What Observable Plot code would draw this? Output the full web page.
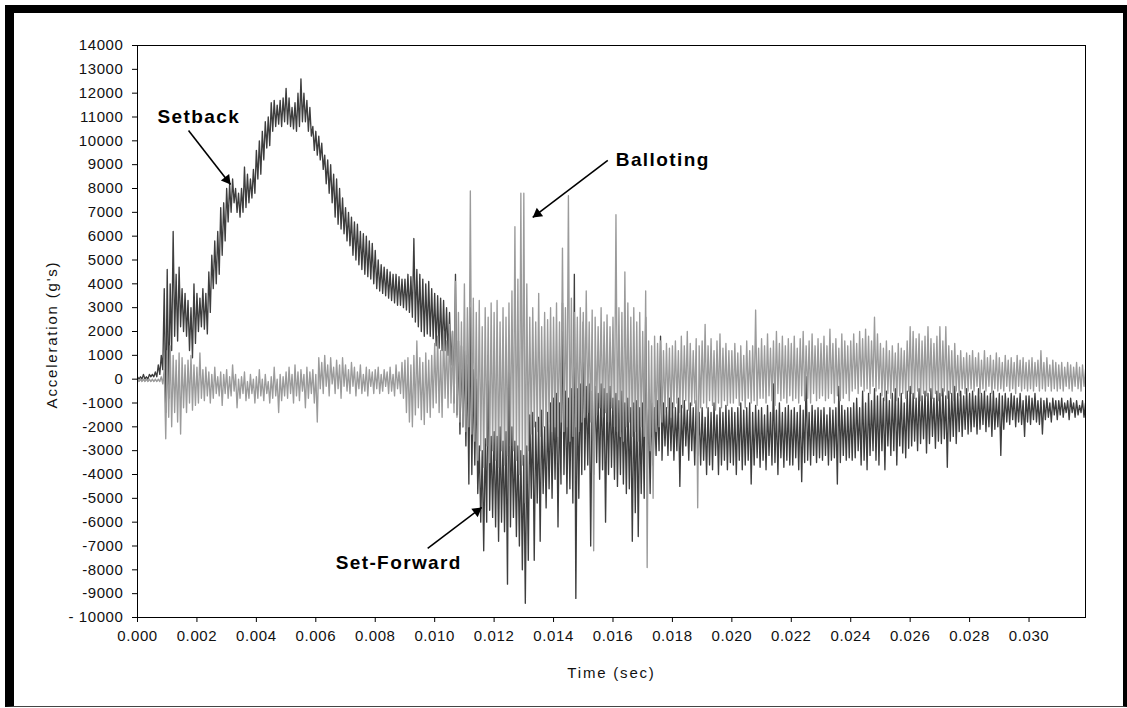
<!DOCTYPE html>
<html><head><meta charset="utf-8">
<script src="https://cdn.jsdelivr.net/npm/d3@7"></script>
<script src="https://cdn.jsdelivr.net/npm/@observablehq/plot@0.6"></script>
<style>
html,body{margin:0;padding:0;background:#fff;}
#wrap{position:relative;width:1127px;height:708px;overflow:hidden;background:#fff;}
#chart{position:absolute;left:0;top:0;}
#frame{position:absolute;left:5px;top:5px;width:1109px;height:693px;border-left:9px solid #000;border-top:8px solid #000;border-right:4px solid #000;border-bottom:1px solid #444;pointer-events:none;}
</style></head><body><div id="wrap"><div id="chart"></div><div id="frame"></div></div>
<script>
// Sampling step of the envelopes (s) and value unit (g)
const dt = 0.0001, unit = 100;

// Setback (dark) envelope per 0.1 ms bin, in hundreds of g
const setbackHi = [1,1,2,1,2,2,3,6,10,38,
46,40,62,44,47,38,36,33,30,40,
36,34,38,36,45,52,58,62,72,74,
80,82,84,80,78,80,89,86,84,88,
96,100,104,108,110,116,117,115,117,118,
122,118,114,116,120,126,120,117,114,106,
104,102,99,94,92,90,86,84,80,76,
72,70,68,66,65,62,61,60,58,57,
54,50,48,47,46,45,44,44,43,42,
42,44,43,59,46,44,42,40,41,38,
36,35,34,33,30,28,20,44,16,14,
12,10,30,4,0,-28,-30,-25,10,-24,
-22,-24,-20,-26,-22,15,-20,-26,-28,-30,
-32,-28,-15,-14,-18,-16,-13,-20,-14,-10,
-8,-6,-10,32,-5,-8,-4,44,-4,-2,
24,-3,-2,-5,-3,-6,-2,-4,-6,-3,
-8,-6,-9,-5,-10,-8,-12,-10,-9,-12,
-10,26,-12,-10,-12,-9,18,-10,-12,-8,
-10,-12,-8,-11,-9,-13,-10,-12,-9,-14,
-12,-16,-12,-14,-10,-15,-12,-14,-11,-13,
-12,-14,-12,-10,-13,-12,-10,-14,-11,-13,
-12,-15,-11,-14,-2,-13,-10,-14,-12,-11,
-13,-12,-14,-11,-13,1,-14,-11,-13,-12,
-13,-12,-15,-12,-13,-12,-3,-11,-13,-12,
-12,-10,-8,-12,-5,-10,-6,-9,-4,-7,
-6,-8,-5,-9,-6,-4,-8,-6,-10,-5,
-3,-6,-8,-4,-7,-5,-6,-4,-8,-5,
-6,-4,-7,-5,-6,-3,-6,-5,-7,-4,
-6,-5,-7,-4,-6,-5,-7,-6,-5,-8,
-6,-7,-6,-8,-6,-7,-8,-6,-9,-7,
-7,-8,-6,-9,-8,-9,-8,-10,-8,-9,
-9,-8,-10,-9,-8,-10,-9,-11,-9,-10];

const setbackLo = [0,0,0,0,1,1,1,2,4,-14,
-8,12,18,16,22,20,18,12,9,15,
20,22,21,19,28,38,40,44,52,58,
66,70,74,70,68,70,72,74,76,78,
84,86,92,97,98,104,106,107,106,108,
107,106,105,104,106,108,108,104,102,96,
94,92,88,82,78,74,68,65,63,61,
58,56,52,50,48,46,44,43,42,40,
38,37,36,35,34,33,32,31,31,30,
29,28,26,24,22,20,18,19,18,17,
14,13,12,12,10,6,-10,-15,-23,-20,
-28,-44,-40,-36,-48,-60,-72,-60,-55,-58,
-62,-68,-60,-64,-86,-62,-58,-66,-70,-80,
-94,-76,-50,-76,-52,-68,-48,-54,-46,-50,
-42,-62,-44,-40,-48,-46,-52,-92,-50,-40,
-38,-36,-70,-40,-35,-42,-38,-60,-40,-37,
-42,-45,-40,-44,-48,-46,-68,-56,-66,-48,
-50,-42,-48,-36,-32,-30,-34,-28,-32,-30,
-34,-30,-45,-32,-28,-34,-30,-36,-32,-36,
-34,-40,-36,-38,-32,-40,-36,-34,-38,-35,
-36,-40,-34,-38,-36,-34,-44,-36,-33,-37,
-34,-38,-32,-36,-35,-40,-33,-37,-34,-36,
-36,-33,-38,-43,-35,-34,-36,-32,-35,-33,
-34,-32,-36,-34,-33,-44,-35,-32,-34,-33,
-34,-33,-30,-36,-34,-38,-32,-30,-34,-36,
-30,-38,-28,-32,-30,-36,-28,-31,-33,-29,
-28,-26,-30,-27,-25,-31,-27,-24,-29,-26,
-27,-25,-37,-26,-24,-27,-22,-24,-21,-23,
-22,-20,-23,-21,-19,-22,-20,-24,-21,-20,
-32,-21,-18,-19,-17,-20,-18,-19,-24,-18,
-19,-17,-18,-19,-23,-17,-16,-18,-15,-17,
-15,-16,-14,-17,-14,-16,-15,-14,-16,-15];

// Balloting (light) envelope per 0.1 ms bin, in hundreds of g
const ballotHi = [0,0,0,0,0,0,0,0,1,4,
12,14,10,8,11,9,6,8,10,6,
5,11,4,5,3,2,5,1,3,2,
4,1,6,2,0,1,3,-1,2,0,
1,4,0,2,-1,1,5,0,2,1,
3,5,2,6,3,4,2,5,3,4,
2,9,7,10,6,9,5,8,6,9,
6,4,7,5,3,6,2,5,4,3,
4,5,2,4,3,5,2,6,3,7,
8,9,6,10,16,9,7,11,8,10,
15,18,12,20,16,23,20,41,28,24,
40,30,79,34,28,33,22,30,26,32,
28,33,24,30,26,32,37,64,42,78,
78,40,26,30,24,36,22,28,25,30,
26,32,24,55,30,77,34,28,26,30,
28,37,24,29,26,22,30,24,27,22,
26,69,30,28,45,32,26,30,24,28,
20,37,16,14,18,15,16,12,15,13,
14,16,12,18,14,20,15,12,17,14,
16,23,14,17,12,16,19,13,15,12,
12,15,11,14,10,16,12,14,29,13,
17,14,19,13,16,20,15,18,14,17,
15,18,13,17,20,14,16,19,14,17,
15,18,14,21,15,17,13,19,16,14,
16,19,15,20,17,21,18,16,26,19,
15,13,16,12,14,11,15,13,12,16,
22,20,17,19,16,18,22,17,15,18,
22,16,22,14,12,15,10,12,9,11,
10,12,9,11,8,12,9,10,8,11,
9,7,10,8,9,7,10,8,9,7,
8,9,7,8,12,7,9,6,8,7,
6,7,5,7,6,5,7,5,6,4];

const ballotLo = [-1,-1,-1,-1,-1,-1,-1,-1,-2,-25,
-16,-20,-14,-18,-23,-12,-14,-10,-13,-11,
-10,-8,-9,-7,-10,-8,-6,-7,-11,-6,
-8,-7,-5,-12,-8,-6,-9,-8,-6,-10,
-8,-7,-9,-6,-10,-8,-7,-14,-9,-7,
-8,-6,-10,-7,-9,-5,-12,-8,-6,-10,
-18,-4,-6,-3,-7,-2,-6,-4,-8,-3,
-5,-6,-3,-7,-4,-6,-5,-7,-3,-6,
-4,-6,-5,-3,-6,-5,-7,-4,-6,-8,
-14,-18,-20,-15,-12,-17,-19,-14,-16,-12,
-10,-14,-16,-8,-12,-10,-14,-16,-18,-20,
-22,-20,-23,-26,-34,-30,-37,-28,-35,-30,
-34,-37,-30,-36,-32,-28,-30,-34,-40,-36,
-52,-30,-23,-20,-22,-24,-20,-26,-18,-22,
-20,-24,-18,-22,-20,-26,-24,-20,-22,-18,
-16,-14,-18,-72,-15,-12,-16,-14,-18,-12,
-20,-22,-24,-26,-20,-18,-24,-22,-26,-20,
-24,-79,-30,-50,-22,-20,-18,-14,-12,-16,
-12,-10,-14,-12,-9,-13,-11,-10,-54,-12,
-10,-12,-9,-11,-13,-10,-12,-9,-11,-10,
-10,-8,-11,-9,-12,-8,-10,-9,-11,-8,
-8,-10,-7,-9,-11,-6,-9,-8,-10,-7,
-9,-8,-10,-7,-9,-8,-10,-6,-9,-8,
-7,-9,-8,-6,-10,-7,-9,-8,-6,-9,
-5,-4,-6,-3,-5,-4,-6,-3,-5,-4,
-7,-9,-6,-8,-5,-9,-7,-6,-8,-5,
-6,-8,-5,-9,-6,-7,-5,-8,-6,-9,
-7,-5,-8,-6,-9,-5,-7,-4,-6,-5,
-4,-5,-3,-6,-4,-5,-3,-6,-4,-5,
-4,-5,-3,-5,-4,-6,-3,-5,-4,-5,
-4,-5,-3,-5,-4,-5,-3,-5,-4,-5,
-4,-5,-3,-4,-5,-3,-4,-5,-3,-4];

// Axis ticks and labels
const xTicks = [0,0.002,0.004,0.006,0.008,0.010,0.012,0.014,0.016,0.018,0.020,0.022,0.024,0.026,0.028,0.030];
const xTickLabels = ["0.000","0.002","0.004","0.006","0.008","0.010","0.012","0.014","0.016","0.018","0.020","0.022","0.024","0.026","0.028","0.030"];
const yTicks = [-10000,-9000,-8000,-7000,-6000,-5000,-4000,-3000,-2000,-1000,0,1000,2000,3000,4000,5000,6000,7000,8000,9000,10000,11000,12000,13000,14000];
const yTickLabels = ["- 10000","-9000","-8000","-7000","-6000","-5000","-4000","-3000","-2000","-1000","0","1000","2000","3000","4000","5000","6000","7000","8000","9000","10000","11000","12000","13000","14000"];
const xTitle = "Time (sec)";
const yTitle = "Acceleration (g's)";

// Annotations (data units): label anchor and arrow tail -> head
const annotations = [
  {label:"Setback",     tx:0.000673, gy:11015, x1:0.001717, y1:10436, x2:0.003131, y2:8170},
  {label:"Balloting",   tx:0.016094, gy:9210,  x1:0.015825, y1:9177,  x2:0.013300, y2:6785},
  {label:"Set-Forward", tx:0.006667, gy:-7700, x1:0.009764, y1:-7104, x2:0.011582, y2:-5384}
];

const W = 1127, H = 708, mL = 137, mR = 42, mT = 45, mB = 91;
const xDomain = [0, 0.0319], yDomain = [-10000, 14000];

function zig(hi, lo) {
  return hi.flatMap((h, i) => [{t: i * dt, g: h * unit}, {t: (i + 0.5) * dt, g: lo[i] * unit}]);
}
const setbackPts = zig(setbackHi, setbackLo);
const ballotPts = zig(ballotHi, ballotLo);

// pixel mapping mirroring the linear scales, used only for arrowhead orientation
const px = t => mL + (t - xDomain[0]) / (xDomain[1] - xDomain[0]) * (W - mL - mR);
const py = g => mT + (yDomain[1] - g) / (yDomain[1] - yDomain[0]) * (H - mT - mB);

const heads = annotations.map(a => {
  const dx = px(a.x2) - px(a.x1), dy = py(a.y2) - py(a.y1);
  const L = Math.hypot(dx, dy), ux = dx / L, uy = dy / L;
  const rot = Math.atan2(dx, -dy) * 180 / Math.PI;
  return Plot.dot([a], {x: "x2", y: "y2", symbol: "triangle", r: 3.9, fill: "#000", stroke: "none",
    rotate: rot, dx: -ux * 6, dy: -uy * 6});
});

const chart = Plot.plot({
  width: W, height: H,
  marginLeft: mL, marginRight: mR, marginTop: mT, marginBottom: mB,
  x: {domain: xDomain},
  y: {domain: yDomain},
  style: {fontFamily: "'Liberation Sans', Arial, sans-serif", fontSize: "15px", color: "#111", background: "white", letterSpacing: "0.6px"},
  marks: [
    Plot.line(setbackPts, {x: "t", y: "g", stroke: "#3e3e3e", strokeWidth: 1.35, clip: true}),
    Plot.line(ballotPts, {x: "t", y: "g", stroke: "#9b9b9b", strokeWidth: 1.35, clip: true}),
    Plot.frame({stroke: "#000", strokeWidth: 1}),
    Plot.axisY({ticks: yTicks, tickFormat: d => yTickLabels[yTicks.indexOf(d)], tickSize: 5, tickPadding: 9, label: null, fontSize: 15, stroke: "#000"}),
    Plot.axisX({ticks: xTicks, tickFormat: d => xTickLabels[xTicks.indexOf(d)], tickSize: 5, tickPadding: 8, label: null, fontSize: 15, stroke: "#000"}),
    Plot.text([yTitle], {frameAnchor: "left", text: d => d, rotate: -90, dx: -85, dy: 3, textAnchor: "middle", lineAnchor: "middle", fontSize: 15}),
    Plot.text([xTitle], {frameAnchor: "bottom", text: d => d, dy: 56, textAnchor: "middle", lineAnchor: "middle", fontSize: 15}),
    Plot.link(annotations, {x1: "x1", y1: "y1", x2: "x2", y2: "y2", stroke: "#000", strokeWidth: 1.6}),
    ...heads,
    Plot.text(annotations, {x: "tx", y: "gy", text: "label", textAnchor: "start", lineAnchor: "middle", fontWeight: "bold", fontSize: 19, fill: "#000"})
  ]
});
const annLabels = new Set(annotations.map(a => a.label));
chart.querySelectorAll("text").forEach(t => {
  const s = t.textContent;
  if (annLabels.has(s)) t.style.letterSpacing = "1.4px";
  else if (s === xTitle || s === yTitle) t.style.letterSpacing = "1.8px";
});
document.getElementById("chart").appendChild(chart);
</script>
</body></html>
